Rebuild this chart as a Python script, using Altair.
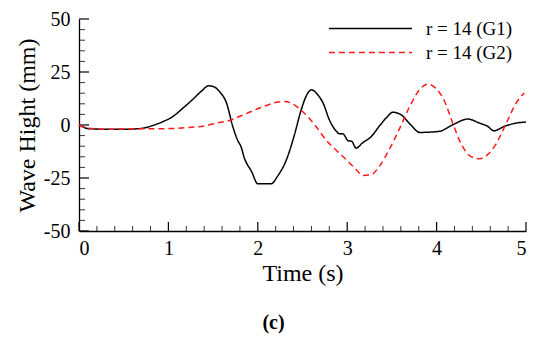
import altair as alt
import pandas as pd

# ---- data ----
t_g1 = [0.00, 0.05, 0.10, 0.30, 0.50, 0.65, 0.75, 0.82, 0.95, 1.05, 1.15, 1.27, 1.37, 1.45,
        1.51, 1.57, 1.65, 1.72, 1.78, 1.81, 1.85, 1.93, 2.00, 2.15, 2.22, 2.32, 2.41, 2.48,
        2.56, 2.60, 2.67, 2.73, 2.80, 2.88, 2.91, 2.95, 3.01, 3.05, 3.10, 3.17, 3.27, 3.36,
        3.44, 3.51, 3.60, 3.71, 3.81, 4.03, 4.18, 4.35, 4.48, 4.57, 4.64, 4.76, 4.89, 5.00]
v_g1 = [0.0, -1.0, -1.7, -2.0, -2.0, -1.8, -1.2, -0.3, 1.8, 4.0, 7.5, 12.0, 16.0, 18.5,
        18.0, 15.8, 10.4, -0.7, -7.7, -10.0, -15.6, -21.9, -27.7, -27.7, -24.2, -16.4, -4.6, 6.4,
        15.1, 16.6, 14.3, 10.4, 2.5, -3.0, -4.1, -4.1, -7.4, -7.7, -10.9, -8.5, -5.4, -0.5,
        3.5, 6.0, 4.9, 0.1, -3.5, -3.0, 0.1, 2.8, 0.9, -0.6, -2.7, -0.6, 0.9, 1.4]

t_g2 = [0.00, 0.10, 0.30, 0.64, 1.01, 1.20, 1.39, 1.57, 1.65, 1.80, 2.02, 2.21, 2.30, 2.39,
        2.50, 2.65, 2.76, 2.88, 2.99, 3.10, 3.17, 3.27, 3.36, 3.47, 3.58, 3.70, 3.81, 3.90,
        3.99, 4.09, 4.18, 4.27, 4.38, 4.48, 4.57, 4.66, 4.78, 4.89, 4.98]
v_g2 = [0.0, -1.5, -2.0, -1.8, -1.7, -1.2, -0.6, 1.2, 1.7, 4.1, 8.0, 10.7, 11.1, 10.0,
        6.4, -0.6, -6.9, -12.0, -16.4, -21.0, -23.8, -23.4, -19.5, -11.6, -2.2, 8.8, 16.7, 19.3,
        17.4, 11.1, 0.9, -8.5, -14.8, -15.9, -14.0, -9.3, 0.9, 10.4, 15.1]

series_names = ["r = 14 (G1)", "r = 14 (G2)"]
x_major = [0, 1, 2, 3, 4, 5]
x_minor = [round(0.2 * i, 1) for i in range(26) if i % 5 != 0]
y_major = [-50, -25, 0, 25, 50]
y_minor = [v for v in range(-45, 50, 5) if v % 25 != 0]

W, H = 447, 212
FONT = "Liberation Serif"

df = pd.concat([
    pd.DataFrame({"t": t_g1, "v": v_g1, "s": series_names[0]}),
    pd.DataFrame({"t": t_g2, "v": v_g2, "s": series_names[1]}),
])

xs = alt.Scale(domain=[0, 5], nice=False, zero=False)
ys = alt.Scale(domain=[-50, 50], nice=False, zero=False)

# legend symbol: a long horizontal stroke (custom path is scaled by sqrt(size)/2)
SYM_SIZE = 16 * 16
SYM_PATH = "M-5.2,0H5.2"   # ~83 px long at this size

lines = alt.Chart(df).mark_line(strokeWidth=1.5, interpolate="monotone").encode(
    x=alt.X("t:Q", scale=xs, title="Time (s)",
            axis=alt.Axis(values=x_major, ticks=False, grid=False, labelPadding=7,
                          titlePadding=3, labelExpr="'' + datum.value")),
    y=alt.Y("v:Q", scale=ys, title="Wave Hight (mm)",
            axis=alt.Axis(values=y_major, ticks=False, grid=False, labelPadding=9,
                          titlePadding=4, labelExpr="'' + datum.value")),
    color=alt.Color("s:N", scale=alt.Scale(domain=series_names, range=["#000000", "#ff1a1a"]),
                    legend=alt.Legend(title=None, orient="none", legendX=282, legendY=0,
                                      symbolType=SYM_PATH, symbolSize=SYM_SIZE,
                                      symbolStrokeWidth=1.5, labelFont=FONT,
                                      labelFontSize=19, labelColor="black",
                                      labelOffset=46, rowPadding=4, padding=0)),
    strokeDash=alt.StrokeDash("s:N", scale=alt.Scale(domain=series_names,
                                                     range=[[1, 0], [6, 4]]),
                              legend=None),
)

xmaj = alt.Chart(pd.DataFrame({"t": x_major})).mark_rule(color="black", strokeWidth=1.2).encode(
    x=alt.X("t:Q", scale=xs), y=alt.value(H), y2=alt.value(H - 9))
xmin = alt.Chart(pd.DataFrame({"t": x_minor})).mark_rule(color="black", strokeWidth=0.8).encode(
    x=alt.X("t:Q", scale=xs), y=alt.value(H), y2=alt.value(H - 5))
ymaj = alt.Chart(pd.DataFrame({"v": y_major})).mark_rule(color="black", strokeWidth=1.2).encode(
    y=alt.Y("v:Q", scale=ys), x=alt.value(0), x2=alt.value(10))
ymin = alt.Chart(pd.DataFrame({"v": y_minor})).mark_rule(color="black", strokeWidth=0.8).encode(
    y=alt.Y("v:Q", scale=ys), x=alt.value(0), x2=alt.value(6))

chart = alt.layer(xmin, xmaj, ymin, ymaj, lines).properties(
    width=W, height=H,
    autosize=alt.AutoSizeParams(type="none"),
    padding={"left": 71, "top": 11, "right": 15, "bottom": 103},
    title=alt.TitleParams("(c)", orient="bottom", font=FONT, fontSize=20, fontWeight="bold",
                          color="black", dx=-29, offset=28),
).configure_view(stroke=None).configure_axis(
    domainColor="black", domainWidth=1.3, labelFont=FONT, labelFontSize=20,
    labelColor="black", titleFont=FONT, titleFontSize=24, titleFontWeight="normal",
    titleColor="black",
)

chart.save("out.html", embed_options={"renderer": "svg", "actions": False})
